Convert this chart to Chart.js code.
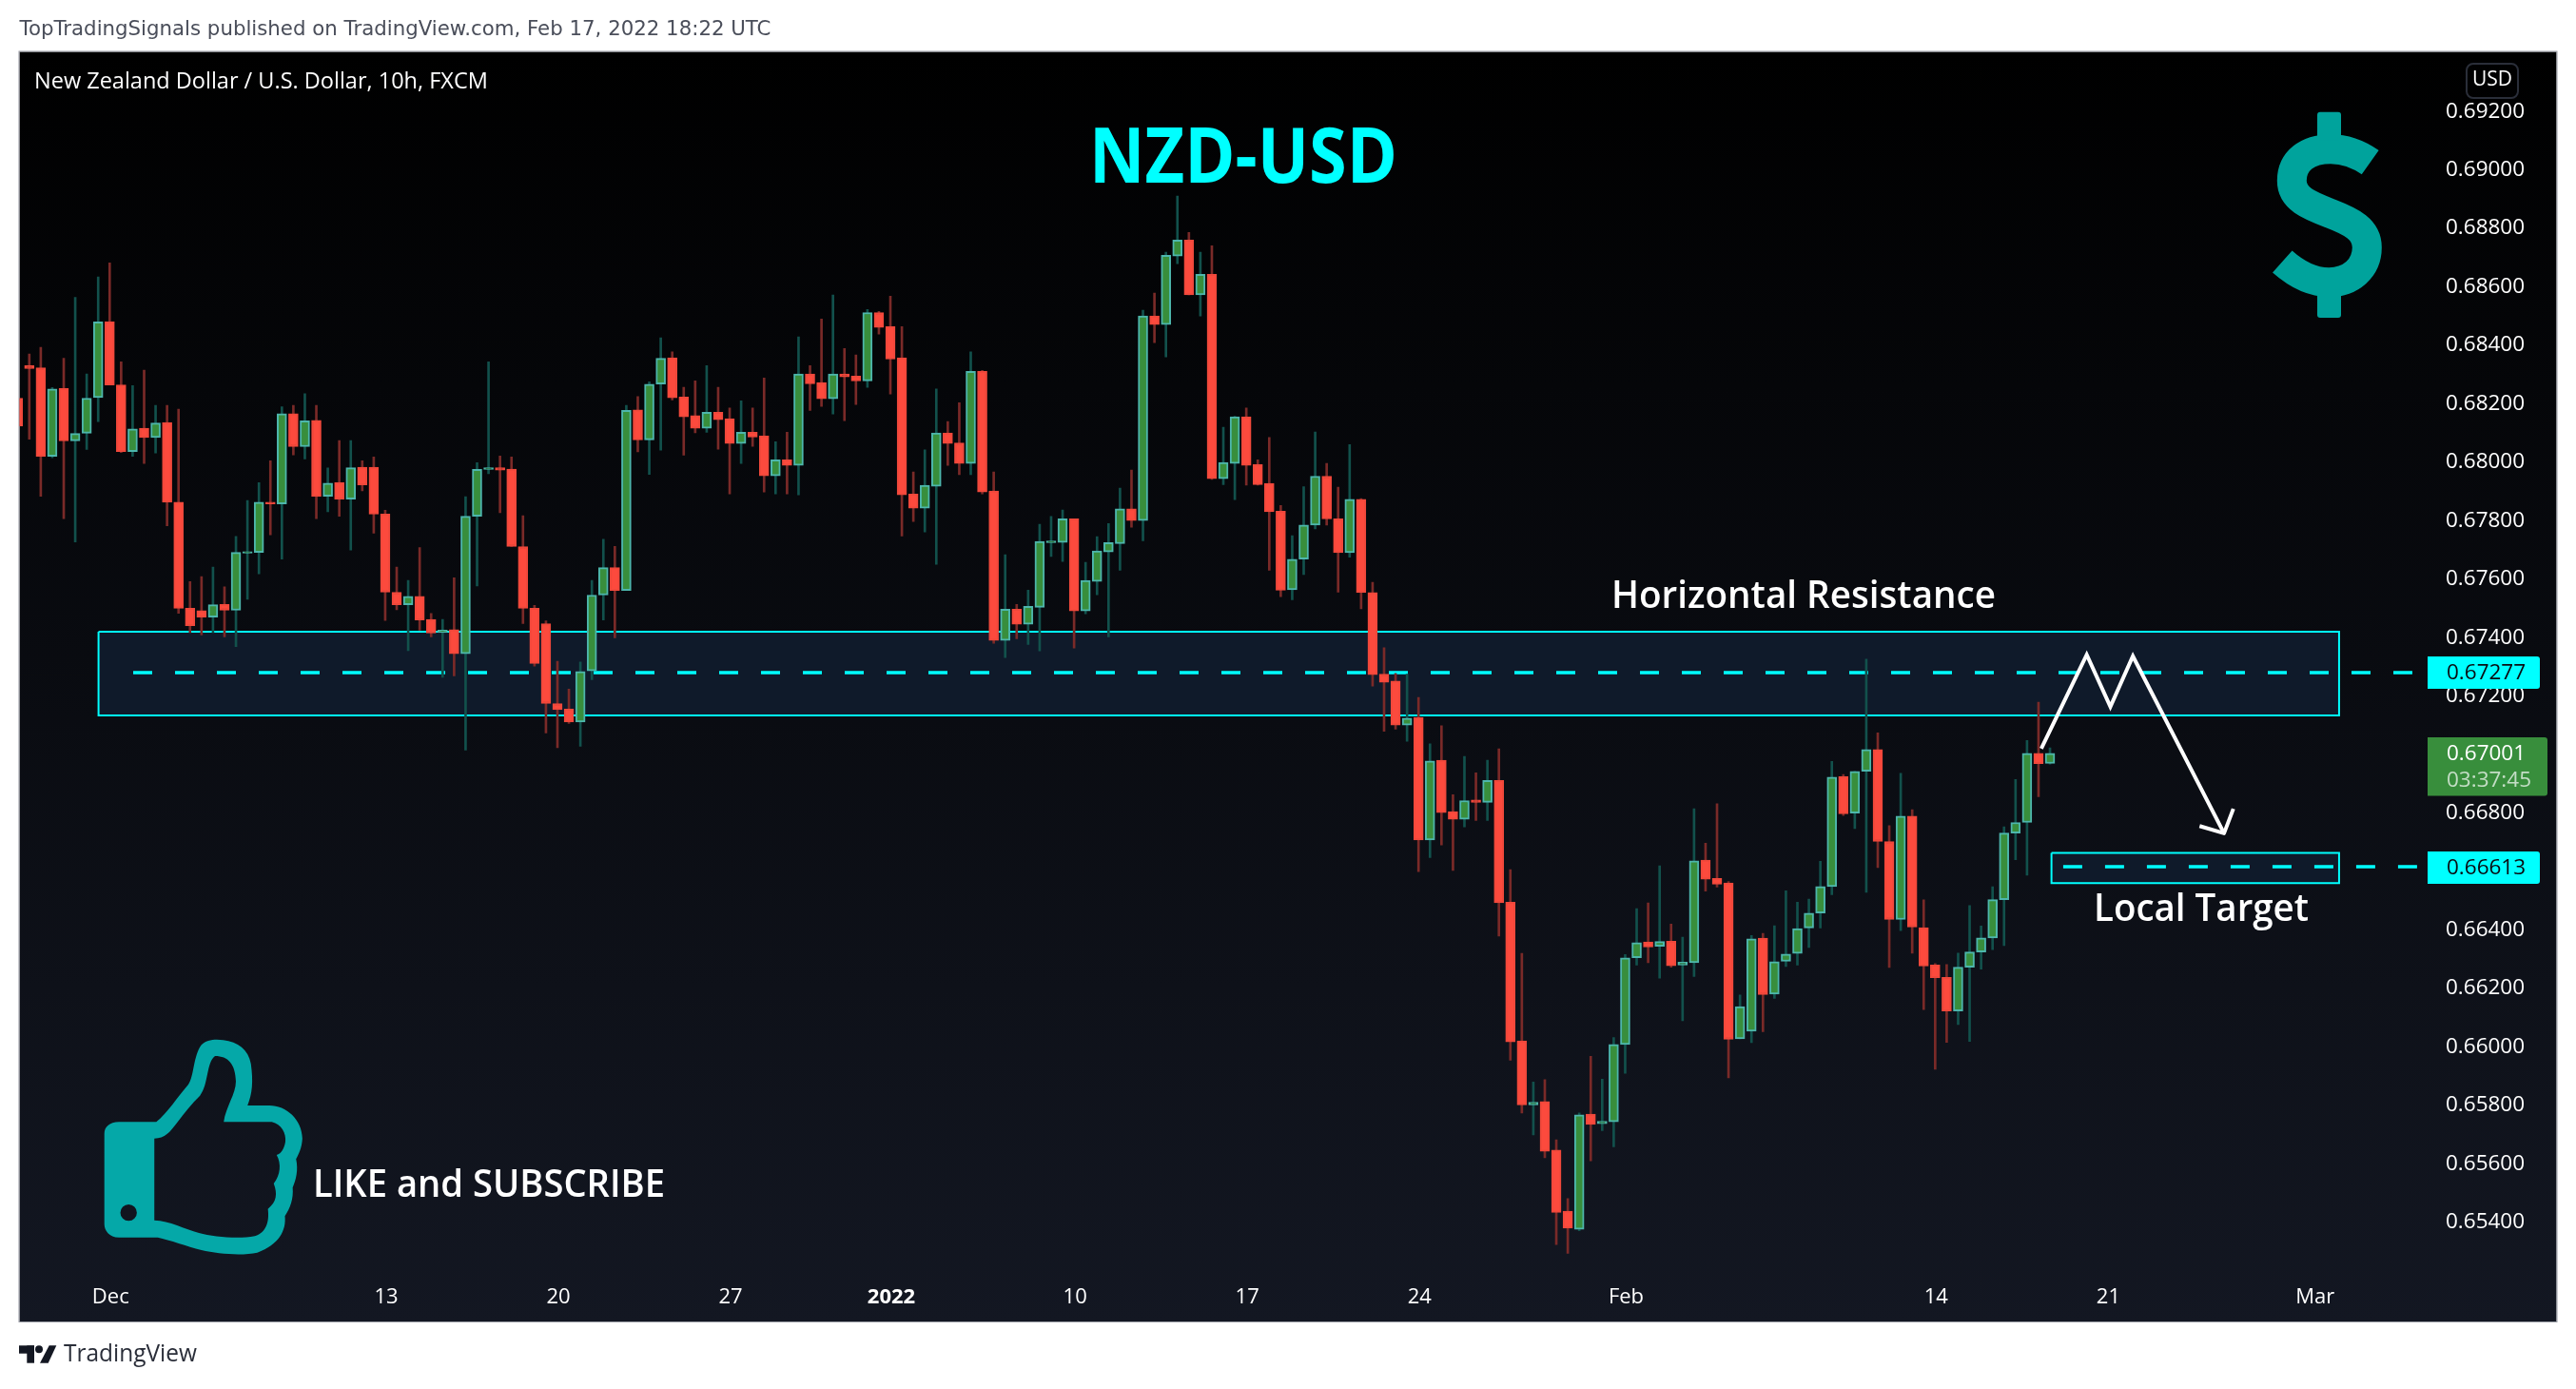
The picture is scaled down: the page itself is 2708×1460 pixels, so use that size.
<!DOCTYPE html>
<html><head><meta charset="utf-8"><title>NZD-USD</title>
<script src="https://cdn.jsdelivr.net/npm/chart.js@4/dist/chart.umd.min.js"></script>
<style>html,body{margin:0;padding:0;background:#fff}canvas{display:block}</style></head>
<body><canvas id="c" width="2708" height="1460"></canvas>
<script>
const opens=[.68216,.68327,.68320,.68017,.68249,.68070,.68096,.68218,.68478,.68261,
.68033,.68113,.68081,.68133,.67860,.67497,.67489,.67467,.67510,.67490,
.67686,.67688,.67860,.67854,.68163,.68050,.68140,.67880,.67927,.67870,
.67980,.67980,.67819,.67552,.67509,.67538,.67459,.67414,.67424,.67341,
.67812,.67972,.67978,.67973,.67708,.67497,.67444,.67171,.67152,.67108,
.67283,.67542,.67636,.67558,.68176,.68073,.68264,.68354,.68220,.68156,
.68113,.68168,.68146,.68061,.68099,.68087,.67950,.68005,.67986,.68299,
.68269,.68214,.68299,.68291,.68275,.68509,.68461,.68354,.67888,.67839,
.67914,.68097,.68063,.67992,.68308,.67898,.67387,.67494,.67442,.67500,
.67721,.67722,.67803,.67488,.67589,.67690,.67718,.67837,.67797,.68497,
.68468,.68702,.68757,.68569,.68640,.67940,.67992,.68152,.67989,.67924,
.67829,.67560,.67665,.67782,.67949,.67803,.67687,.67870,.67551,.67272,
.67248,.67097,.67123,.66704,.66977,.66801,.66775,.66841,.66833,.66908,
.66491,.66017,.65798,.65809,.65643,.65434,.65372,.65766,.65733,.65740,
.66004,.66301,.66355,.66340,.66358,.66276,.66284,.66635,.66573,.66557,
.66024,.66050,.66368,.66177,.66289,.66316,.66403,.66454,.66545,.66921,
.66796,.66939,.67014,.66699,.66432,.66786,.66404,.66276,.66234,.66119,
.66269,.66321,.66369,.66500,.66728,.66764,.67001,.66966];
const closes=[.68120,.68317,.68017,.68247,.68070,.68095,.68216,.68477,.68261,.68033,
.68111,.68081,.68131,.67860,.67497,.67437,.67467,.67509,.67490,.67688,
.67691,.67860,.67854,.68163,.68050,.68138,.67880,.67925,.67870,.67978,
.67919,.67819,.67552,.67509,.67538,.67457,.67412,.67422,.67341,.67812,
.67972,.67978,.67970,.67708,.67497,.67308,.67171,.67150,.67108,.67281,
.67542,.67636,.67558,.68174,.68073,.68264,.68352,.68217,.68152,.68113,
.68168,.68142,.68061,.68099,.68083,.67950,.68005,.67986,.68299,.68265,
.68214,.68299,.68289,.68275,.68509,.68458,.68350,.67885,.67839,.67918,
.68097,.68061,.67992,.68308,.67895,.67387,.67494,.67442,.67504,.67726,
.67727,.67803,.67488,.67592,.67693,.67722,.67837,.67797,.68497,.68468,
.68705,.68757,.68569,.68640,.67940,.67996,.68152,.67986,.67920,.67827,
.67559,.67665,.67782,.67949,.67803,.67687,.67870,.67551,.67270,.67244,
.67097,.67121,.66704,.66975,.66798,.66775,.66839,.66833,.66908,.66489,
.66013,.65798,.65807,.65639,.65430,.65376,.65764,.65731,.65742,.66005,
.66301,.66353,.66338,.66357,.66274,.66286,.66633,.66570,.66553,.66022,
.66134,.66366,.66175,.66288,.66314,.66401,.66454,.66545,.66919,.66794,
.66939,.67014,.66699,.66432,.66786,.66406,.66273,.66233,.66119,.66269,
.66321,.66369,.66500,.66728,.66764,.67001,.66965,.67001];
const highs=[.68260,.68367,.68390,.68252,.68352,.68561,.68299,.68631,.68679,.68340,
.68259,.68312,.68191,.68191,.68178,.67588,.67605,.67638,.67570,.67743,
.67866,.67927,.68002,.68186,.68191,.68231,.68191,.67977,.68071,.68071,
.68002,.68015,.67832,.67638,.67592,.67705,.67479,.67459,.67601,.67879,
.67995,.68340,.68018,.68015,.67814,.67507,.67454,.67316,.67220,.67313,
.67592,.67733,.67709,.68191,.68221,.68272,.68422,.68374,.68253,.68275,
.68327,.68253,.68182,.68207,.68182,.68285,.68067,.68099,.68426,.68327,
.68487,.68569,.68386,.68364,.68519,.68513,.68565,.68461,.67963,.68039,
.68247,.68136,.68200,.68374,.68311,.67963,.67680,.67510,.67559,.67784,
.67811,.67833,.67803,.67654,.67742,.67787,.67908,.67970,.68517,.68575,
.68715,.68907,.68783,.68715,.68737,.68116,.68154,.68182,.68005,.68081,
.67849,.67745,.67913,.68100,.67993,.67911,.68057,.67872,.67586,.67362,
.67274,.67272,.67192,.67033,.67095,.66859,.66990,.66934,.66977,.67016,
.66603,.66316,.65876,.65884,.65678,.65477,.65770,.65964,.65886,.66028,
.66312,.66469,.66489,.66616,.66416,.66372,.66811,.66693,.66828,.66562,
.66174,.66377,.66385,.66411,.66530,.66491,.66502,.66631,.66973,.66928,
.66939,.67323,.67071,.66753,.66932,.66808,.66499,.66281,.66278,.66317,
.66480,.66410,.66544,.66749,.66911,.67045,.67176,.67019];
const lows=[.68050,.68075,.67880,.68012,.67804,.67724,.68040,.68136,.68261,.68030,
.68017,.67992,.68028,.67779,.67480,.67414,.67406,.67414,.67399,.67366,
.67528,.67615,.67748,.67665,.68022,.68008,.67804,.67827,.67812,.67696,
.67899,.67754,.67455,.67492,.67352,.67422,.67399,.67261,.67266,.67012,
.67573,.67957,.67824,.67708,.67445,.67299,.67070,.67020,.67103,.67025,
.67253,.67457,.67396,.67558,.68032,.67955,.68038,.68210,.68021,.68097,
.68099,.68041,.67888,.67992,.68051,.67895,.67888,.67888,.67885,.68174,
.68188,.68162,.68139,.68194,.68253,.68435,.68230,.67744,.67794,.67758,
.67647,.67986,.67954,.67954,.67888,.67377,.67328,.67393,.67373,.67351,
.67674,.67657,.67361,.67478,.67543,.67399,.67627,.67774,.67728,.68406,
.68357,.68676,.68569,.68497,.67938,.67920,.67869,.67918,.67918,.67627,
.67537,.67526,.67612,.67769,.67782,.67552,.67672,.67495,.67231,.67076,
.67083,.67042,.66596,.66644,.66687,.66600,.66749,.66771,.66771,.66375,
.65951,.65770,.65695,.65617,.65320,.65290,.65367,.65606,.65710,.65654,
.65906,.66276,.66284,.66231,.66269,.66086,.66237,.66529,.66543,.65890,
.66024,.66011,.66048,.66162,.66271,.66276,.66336,.66403,.66517,.66788,
.66743,.66525,.66610,.66268,.66394,.66317,.66124,.65920,.66012,.66073,
.66015,.66262,.66329,.66343,.66637,.66584,.66852,.66964];

const xTickIndex=[8,32,47,62,76,92,107,122,140,167,182,200];
const xTickLabels=["Dec","13","20","27","2022","10","17","24","Feb","14","21","Mar"];
const yTickValues=[.654,.656,.658,.660,.662,.664,.666,.668,.670,.672,.674,.676,.678,.680,.682,.684,.686,.688,.690,.692];

const resistanceX=[7.03,202.18,202.18,7.03,7.03];
const resistanceY=[.67417,.67417,.67130,.67130,.67417];
const resistanceDashX=[10.05,208.56];
const resistanceDashY=[.67277,.67277];
const targetX=[177.13,202.18,202.18,177.13,177.13];
const targetY=[.66660,.66660,.66557,.66557,.66660];
const targetDashX=[178.15,209.05];
const targetDashY=[.66613,.66613];
const pathX=[176.24,180.2,182.26,184.22,192.16];
const pathY=[.67017,.67338,.67160,.67333,.66727];
const headX=[190.03,192.16,192.97];
const headY=[.66752,.66727,.66811];

const UP='#388e3c',UPB='#4db6ac',DN='#fc4a3d',DNB='#f0483b',UW='#12514c',DW='#7a2a28',CY='#00ffff',TEAL='#00a39c';
const FONT='"Open Sans"';
const idx=opens.map((_,i)=>i);
const isUp=i=>closes[i]>=opens[i];
const xy=(xs,ys)=>xs.map((x,i)=>({x,y:ys[i]}));

const frame={l:20.5,t:54.5,r:2687.5,b:1389};
const texts=[
 {s:"New Zealand Dollar / U.S. Dollar, 10h, FXCM",x:36,y:86,f:`23.5px ${FONT}`,c:'#fff',a:'left'},
 {s:"NZD-USD",x:1307,y:169,f:`bold 80px ${FONT}`,c:CY,a:'center',w:324},
 {s:"Horizontal Resistance",x:1896,y:628,f:`600 39px ${FONT}`,c:'#fff',a:'center',w:404},
 {s:"Local Target",x:2314,y:957,f:`600 39px ${FONT}`,c:'#fff',a:'center',w:226},
 {s:"LIKE and SUBSCRIBE",x:329,y:1247,f:`600 39px ${FONT}`,c:'#fff',a:'left',w:370},
 {s:"USD",x:2620,y:84,f:`21px ${FONT}`,c:'#fff',a:'center'},
 {s:"TopTradingSignals published on TradingView.com, Feb 17, 2022 18:22 UTC",x:20.5,y:31,f:'21.3px "DejaVu Sans"',c:'#4a4e5a',a:'left'},
 {s:"TradingView",x:67,y:1424,f:`25px ${FONT}`,c:'#2a2e39',a:'left',w:140}
];
const tags=[
 {x:2552,y:690,w:118,h:34,bg:CY,lines:[{s:"0.67277",y:708,c:'#0a0c12'}]},
 {x:2552,y:895,w:118,h:34,bg:CY,lines:[{s:"0.66613",y:913,c:'#0a0c12'}]},
 {x:2552,y:775,w:126,h:61.5,bg:UP,lines:[{s:"0.67001",y:793,c:'#fff'},{s:"03:37:45",y:821,c:'rgba(255,255,255,.7)'}]}
];
const thumbOuter="M245 358L322 358C345 330 365 280 388 240C400 215 398 150 415 115C425 98 445 96 460 100C490 105 512 130 517 175C522 230 520 270 510 306L555 306C590 306 622 350 623 410C622 440 615 460 610 475C615 510 610 540 603 565C605 600 598 630 587 655C590 700 575 745 530 770C500 780 450 775 415 762C385 750 350 730 325 722L245 722C225 722 215 700 215 680L215 395C215 375 225 358 245 358Z";
const thumbInner="M318 410C340 410 350 390 365 360C380 330 395 300 412 275C430 240 425 170 443 150C470 150 485 175 486 230C486 270 465 310 461 358L560 358C580 365 590 395 588 420C586 440 580 458 570 462C580 490 578 525 564 552C572 585 570 610 552 632C555 670 550 705 525 718C490 728 440 720 410 708C380 695 350 670 318 668Z";
const thumbHole="M248 644a17 26 0 1 0 34 0a17 26 0 1 0 -34 0Z";

const backdrop={id:'backdrop',beforeDraw(ch){
 const c=ch.ctx;c.save();
 const g=c.createLinearGradient(0,frame.t,0,frame.b);g.addColorStop(0,'#000000');g.addColorStop(1,'#131722');
 c.fillStyle=g;c.fillRect(frame.l,frame.t,frame.r-frame.l,frame.b-frame.t);
 c.strokeStyle='#9598a1';c.lineWidth=1;c.strokeRect(frame.l-.5,frame.t-.5,frame.r-frame.l+1,frame.b-frame.t+1);
 c.restore();
}};
const overlay={id:'overlay',afterDraw(ch){
 const c=ch.ctx;c.save();
 // USD badge
 c.strokeStyle='#2a2e39';c.lineWidth=2;c.beginPath();c.roundRect(2593,67,54,36,7);c.stroke();
 // dollar icon
 c.strokeStyle=TEAL;c.fillStyle=TEAL;c.lineWidth=31;c.lineCap='butt';
 c.stroke(new Path2D("M2491.7 170.7C2478 161 2464 156.7 2450 156.7C2426 156.7 2409.3 169 2409.3 190C2409.3 209 2428 216 2450 224.5C2472 233 2488.3 241 2488.3 260C2488.3 282 2471 296.7 2448.3 296.7C2430 296.7 2414 288 2399.3 275"));
 c.beginPath();c.roundRect(2436,117.7,25,30,3);c.fill();c.beginPath();c.roundRect(2436,304,25,30,3);c.fill();
 // thumb icon
 c.save();c.translate(0,1060);c.scale(1/1.96,1/3);c.fillStyle='#05a8a8';
 c.fill(new Path2D(thumbOuter+thumbInner+thumbHole),'evenodd');c.restore();
 // TradingView logo
 c.fillStyle='#131722';
 c.fillRect(20,1414.3,16,8.4);c.fillRect(28.3,1414.3,7.7,18.4);
 c.beginPath();c.arc(41,1418.3,4,0,7);c.fill();
 c.beginPath();c.moveTo(51.7,1414.3);c.lineTo(59.3,1414.3);c.lineTo(50.7,1432.7);c.lineTo(42,1432.7);c.fill();
 // text
 c.textBaseline='middle';
 for(const t of texts){c.font=t.f;c.fillStyle=t.c;c.textAlign=t.a;
  if(t.w)c.fillText(t.s,t.x,t.y,t.w);else c.fillText(t.s,t.x,t.y);}
 // price tags
 for(const t of tags){c.fillStyle=t.bg;c.beginPath();c.roundRect(t.x,t.y,t.w,t.h,[0,3,3,0]);c.fill();
  c.font=`22.5px ${FONT}`;c.textAlign='left';
  for(const l of t.lines){c.fillStyle=l.c;c.fillText(l.s,2572,l.y);}}
 c.restore();
}};

new Chart(document.getElementById('c'),{
 type:'bar',
 data:{datasets:[
  {type:'line',order:1,data:xy(headX,headY),borderColor:'#fff',borderWidth:4,pointRadius:0,tension:0,fill:false,borderJoinStyle:'round'},
  {type:'line',order:1,data:xy(pathX,pathY),borderColor:'#fff',borderWidth:4,pointRadius:0,tension:0,fill:false,borderJoinStyle:'miter'},
  {order:2,grouped:false,barThickness:10,data:idx.map(i=>({x:i,y:[opens[i],closes[i]]})),
   backgroundColor:idx.map(i=>isUp(i)?UP:DN),borderColor:idx.map(i=>isUp(i)?UPB:DNB),borderWidth:2,borderSkipped:false},
  {order:3,grouped:false,barThickness:2,data:idx.map(i=>({x:i,y:[lows[i],highs[i]]})),
   backgroundColor:idx.map(i=>isUp(i)?UW:DW),borderWidth:0},
  {type:'line',order:4,data:xy(resistanceDashX,resistanceDashY),borderColor:CY,borderWidth:3.5,borderDash:[20,24],pointRadius:0,tension:0,fill:false},
  {type:'line',order:4,data:xy(targetDashX,targetDashY),borderColor:CY,borderWidth:3.5,borderDash:[20,24],pointRadius:0,tension:0,fill:false},
  {type:'line',order:5,data:xy(resistanceX,resistanceY),borderColor:CY,borderWidth:2,backgroundColor:'#0f1a2a',fill:'shape',pointRadius:0,tension:0},
  {type:'line',order:5,data:xy(targetX,targetY),borderColor:CY,borderWidth:2,backgroundColor:'#0f1a2a',fill:'shape',pointRadius:0,tension:0}
 ]},
 options:{
  responsive:false,devicePixelRatio:1,animation:false,
  layout:{padding:{left:20.5,top:54.5,right:20.5,bottom:71}},
  plugins:{legend:{display:false},tooltip:{enabled:false},title:{display:false}},
  scales:{
   x:{type:'linear',offset:false,min:.1466,max:209.89,
    grid:{display:false},border:{display:false},
    afterFit(s){s.height=49;},
    afterBuildTicks(s){s.ticks=xTickIndex.map(v=>({value:v}));},
    ticks:{autoSkip:false,maxRotation:0,padding:3,labelOffset:1,color:'#fff',includeBounds:false,
     font:c=>({family:'Open Sans',size:22,weight:c.tick&&c.tick.value===76?'bold':'normal'}),
     callback:v=>xTickLabels[xTickIndex.indexOf(v)]}},
   y:{type:'linear',position:'right',min:.652163,max:.694008,
    grid:{display:false},border:{display:false},
    afterFit(s){s.width=135.5;},
    afterBuildTicks(s){s.ticks=yTickValues.map(v=>({value:v}));},
    ticks:{padding:11,labelOffset:1,color:'#fff',crossAlign:'near',font:{family:'Open Sans',size:22.5},
     callback:v=>v.toFixed(5)}}
  }
 },
 plugins:[backdrop,overlay]
});
</script></body></html>
